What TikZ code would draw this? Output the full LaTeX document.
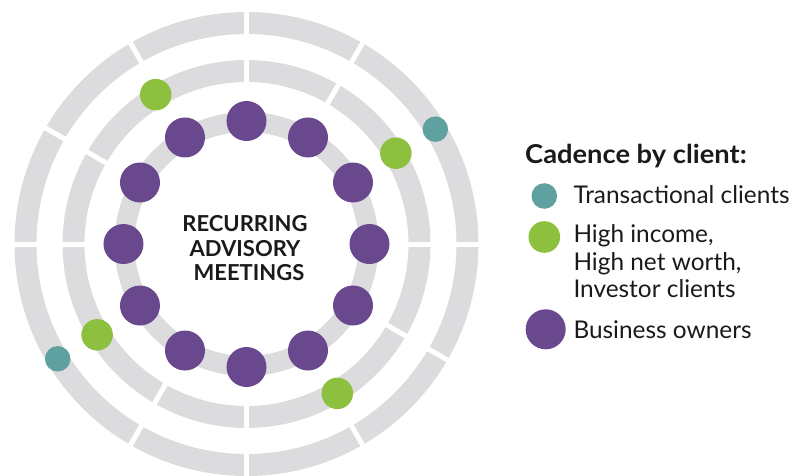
\documentclass[tikz,border=0pt]{standalone}
\usepackage{fontspec}
\setmainfont{Lato}
\newfontfamily\widebold[FakeStretch=1.05]{Lato Bold}
\definecolor{ringgray}{HTML}{DCDCDE}
\definecolor{bizpurple}{HTML}{6A488E}
\definecolor{hiGreen}{HTML}{8DC03F}
\definecolor{txTeal}{HTML}{5FA0A1}
\definecolor{ink}{HTML}{1A1A1A}
\begin{document}
\begin{tikzpicture}[x=1pt,y=1pt,
  ringstyle/.style={draw=ringgray},
  gapline/.style={draw=white,line width=5pt},
  dotstyle/.style={circle,inner sep=0pt,minimum size=#1},
  centertext/.style={anchor=base,inner sep=0pt,text=ink,font=\bfseries\fontsize{22}{26}\selectfont},
  legtitle/.style={anchor=base west,inner sep=0pt,text=ink,font=\widebold\fontsize{26}{30}\selectfont},
  legtext/.style={anchor=base west,inner sep=0pt,text=ink,font=\fontsize{24.4}{28}\selectfont}]
\useasboundingbox (-246.5,-231) rectangle (551.5,244);
\coordinate (C) at (0,0);
% rings
\draw[ringstyle,line width=22pt] (C) circle (221);
\draw[ringstyle,line width=22pt] (C) circle (173);
\draw[ringstyle,line width=20pt] (C) circle (122);
% gaps
\foreach \a in {0,30,...,330}{
  \draw[gapline] (\a:155) -- (\a:240);
}
% purple dots
\foreach \a [count=\i] in {90,60,30,0,-30,-60,-90,-120,-150,180,150,120}{
  \node[dotstyle=40pt,fill=bizpurple] (p\i) at (\a:123) {};
}
% green dots
\foreach \a [count=\i] in {31.3,121.3,211.3,301.3}{
  \node[dotstyle=31.5pt,fill=hiGreen] (g\i) at (\a:174.8) {};
}
% teal dots
\node[dotstyle=25.5pt,fill=txTeal] (t1) at (31.3:221) {};
\node[dotstyle=25.5pt,fill=txTeal] (t2) at (211.3:221) {};
% center text
\node[centertext] (c1) at (-1.5,12.3) {RECURRING};
\node[centertext] (c2) at (-1.5,-12.7) {ADVISORY};
\node[centertext] (c3) at (2.5,-36.7) {MEETINGS};
% legend
\node[legtitle] (lt) at (278.5,80.7) {Cadence by client:};
\node[dotstyle=25.6pt,fill=txTeal] (lteal) at (297.8,48) {};
\node[legtext] (l1) at (326.8,40.7) {Transactional clients};
\node[dotstyle=31.6pt,fill=hiGreen] (lgreen) at (297.8,7) {};
\node[legtext] (l2a) at (326.8,1.3) {High income,};
\node[legtext] (l2b) at (326.8,-26) {High net worth,};
\node[legtext] (l2c) at (326.8,-53) {Investor clients};
\node[dotstyle=40pt,fill=bizpurple] (lpurple) at (299.2,-85.3) {};
\node[legtext] (l3) at (326.8,-94) {Business owners};
\end{tikzpicture}
\end{document}
